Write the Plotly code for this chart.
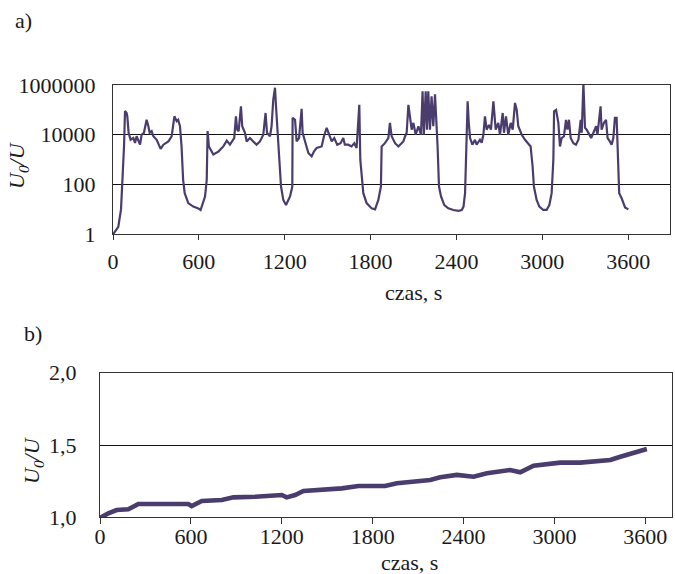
import plotly.graph_objects as go

# ---- panel a) data: time [s] and U0/U (log scale) ----
time_a = [0, 37, 56, 68, 77, 84, 95, 100, 109, 123, 142, 154, 165, 189, 200, 216, 235, 247, 256, 270,
          282, 305, 333, 352, 387, 410, 429, 445, 455, 468, 479, 490, 501, 526, 561, 596, 612, 643, 655, 661,
          670, 701, 736, 771, 795, 817, 847, 859, 868, 878, 894, 903, 922, 934, 957, 980, 1003, 1027, 1050, 1066,
          1076, 1097, 1108, 1120, 1132, 1139, 1151, 1160, 1174, 1190, 1209, 1237, 1253, 1255, 1272, 1283, 1300, 1318, 1325, 1342,
          1365, 1388, 1404, 1423, 1458, 1474, 1493, 1511, 1528, 1546, 1567, 1590, 1609, 1620, 1644, 1667, 1686, 1702, 1721, 1728,
          1737, 1749, 1772, 1807, 1831, 1854, 1872, 1877, 1900, 1924, 1935, 1947, 1971, 1994, 2006, 2029, 2041, 2052, 2064, 2075,
          2087, 2099, 2115, 2134, 2152, 2163, 2172, 2185, 2194, 2203, 2215, 2226, 2238, 2250, 2262, 2268, 2278, 2292, 2315, 2343,
          2378, 2413, 2437, 2449, 2460, 2467, 2478, 2486, 2495, 2511, 2529, 2541, 2564, 2576, 2588, 2599, 2611, 2627, 2641, 2658,
          2674, 2692, 2704, 2723, 2732, 2746, 2762, 2779, 2793, 2809, 2821, 2832, 2856, 2879, 2902, 2918, 2932, 2941, 2960, 2979,
          3007, 3030, 3049, 3065, 3077, 3082, 3096, 3112, 3123, 3135, 3151, 3165, 3175, 3186, 3198, 3217, 3235, 3252, 3268, 3275,
          3287, 3298, 3310, 3330, 3341, 3357, 3376, 3385, 3399, 3407, 3414, 3430, 3445, 3456, 3472, 3484, 3496, 3507, 3519, 3525,
          3530, 3537, 3554, 3565, 3578, 3601]
ratio_a = [1, 2, 10, 150, 3400, 90000, 75000, 55000, 12000, 6300, 7400, 4700, 8700, 4000, 10000, 12000, 40000, 22000, 12000, 14000,
           8700, 6300, 2700, 4000, 5400, 8700, 55000, 35000, 40000, 22000, 3400, 155, 45, 18, 13, 11, 9.5, 33, 155, 14000,
           3400, 1600, 2100, 3400, 5800, 4000, 7400, 55000, 16000, 14000, 140000, 22000, 12000, 5400, 7400, 5400, 4000, 5400, 10000, 75000,
           12000, 8700, 22000, 260000, 780000, 140000, 8700, 730, 83, 24, 15, 33, 83, 48000, 40000, 5400, 7400, 110000, 12000, 5400,
           1850, 1350, 2100, 2950, 3400, 8700, 19000, 10000, 5400, 7400, 4000, 4600, 7400, 4000, 4000, 3400, 4600, 2950, 160000, 1000,
           210, 45, 18, 11, 10, 24, 83, 3400, 4600, 7400, 30000, 8700, 4600, 3400, 4000, 5400, 8700, 12000, 160000, 40000,
           16000, 30000, 10000, 22000, 10000, 560000, 10000, 560000, 16000, 560000, 16000, 350000, 22000, 420000, 30000, 3400, 83, 33, 15, 11,
           9.5, 8.7, 9.5, 13, 45, 730, 220000, 30000, 7400, 4000, 6300, 4000, 6300, 4800, 10000, 55000, 16000, 25000, 16000, 220000,
           16000, 30000, 10000, 75000, 12000, 55000, 10000, 30000, 16000, 190000, 100000, 22000, 10000, 6300, 4600, 3400, 530, 83, 24, 13,
           9.5, 9.5, 15, 45, 1000, 88000, 100000, 30000, 3400, 7400, 8700, 40000, 16000, 40000, 7400, 4600, 4000, 6300, 40000, 12000,
           1200000, 19000, 16000, 10000, 7400, 12000, 22000, 10000, 40000, 140000, 16000, 30000, 40000, 7400, 5400, 4000, 7400, 48000, 48000, 4600,
           730, 45, 28, 18, 12, 10]

# ---- panel b) data ----
time_b = [0, 55, 110, 187, 253, 407, 583, 605, 672, 804, 881, 1024, 1134, 1200, 1232, 1288, 1343, 1508, 1596, 1706,
          1882, 1960, 2180, 2246, 2356, 2466, 2554, 2708, 2774, 2862, 2950, 3038, 3170, 3369, 3435, 3523, 3610]
ratio_b = [0.995, 1.028, 1.05, 1.055, 1.092, 1.092, 1.092, 1.078, 1.113, 1.12, 1.138, 1.142, 1.154, 1.154, 1.138, 1.154, 1.182, 1.194, 1.2, 1.216,
           1.216, 1.235, 1.258, 1.277, 1.293, 1.281, 1.304, 1.327, 1.311, 1.357, 1.369, 1.378, 1.378, 1.396, 1.419, 1.449, 1.472]

x_ticks = [0, 600, 1200, 1800, 2400, 3000, 3600]
ya_ticks = [1, 100, 10000, 1000000]
ya_text = ["1", "100", "10000", "1000000"]
yb_ticks = [1.0, 1.5, 2.0]
yb_text = ["1,0", "1,5", "2,0"]

W, H = 675, 574
FONT = "'Liberation Serif', 'Times New Roman', Times, serif"
LINE = "#4a3d6e"
FS = 22

fig = go.Figure()
fig.add_trace(go.Scatter(x=time_a, y=ratio_a, mode="lines", line=dict(color=LINE, width=2.2),
                         xaxis="x", yaxis="y", showlegend=False))
fig.add_trace(go.Scatter(x=time_b, y=ratio_b, mode="lines", line=dict(color=LINE, width=4.6),
                         xaxis="x2", yaxis="y2", showlegend=False))

axis_common = dict(showline=True, linecolor="#333333", linewidth=1, mirror=True, automargin=False,
                   tickfont=dict(family=FONT, size=FS, color="#1a1a1a"), zeroline=False)

fig.update_layout(
    width=W, height=H, margin=dict(l=0, r=0, t=0, b=0, pad=0),
    paper_bgcolor="white", plot_bgcolor="white",
    font=dict(family=FONT, size=FS, color="#1a1a1a"),
    xaxis=dict(domain=[113 / W, 670 / W], range=[0, 3892], tickvals=x_ticks, ticks="outside",
               ticklen=5, tickcolor="#333333", showgrid=False, anchor="y", ticklabelstandoff=2, **axis_common),
    yaxis=dict(domain=[(H - 234.3) / H, (H - 85) / H], type="log", range=[0, 6], tickvals=ya_ticks,
               ticktext=ya_text, ticks="", showgrid=True, gridcolor="#111111", gridwidth=1,
               anchor="x", ticklabelstandoff=12, **axis_common),
    xaxis2=dict(domain=[100 / W, 672 / W], range=[0, 3776], tickvals=x_ticks, ticks="outside",
                ticklen=6, tickcolor="#333333", showgrid=False, anchor="y2", ticklabelstandoff=-7, **axis_common),
    yaxis2=dict(domain=[(H - 517.3) / H, (H - 372.7) / H], range=[1.0, 2.0], tickvals=yb_ticks,
                ticktext=yb_text, ticks="", showgrid=True, gridcolor="#111111", gridwidth=1,
                anchor="x2", ticklabelstandoff=18, **axis_common),
)

def ann(text, x, y, angle=0):
    fig.add_annotation(text=text, x=x / W, y=1 - y / H, xref="paper", yref="paper",
                       showarrow=False, textangle=angle, xanchor="center", yanchor="middle",
                       font=dict(family=FONT, size=FS, color="#1a1a1a"))

ann("a)", 23, 20)
ann("b)", 33, 333)
ann("czas, s", 414, 292)
ann("czas, s", 409, 562)
ann("<i>U</i><sub><i>0</i></sub><i>/U</i>", 18, 165, -90)
ann("<i>U</i><sub><i>0</i></sub><i>/U</i>", 33, 460, -90)

fig.write_html("out.html")
